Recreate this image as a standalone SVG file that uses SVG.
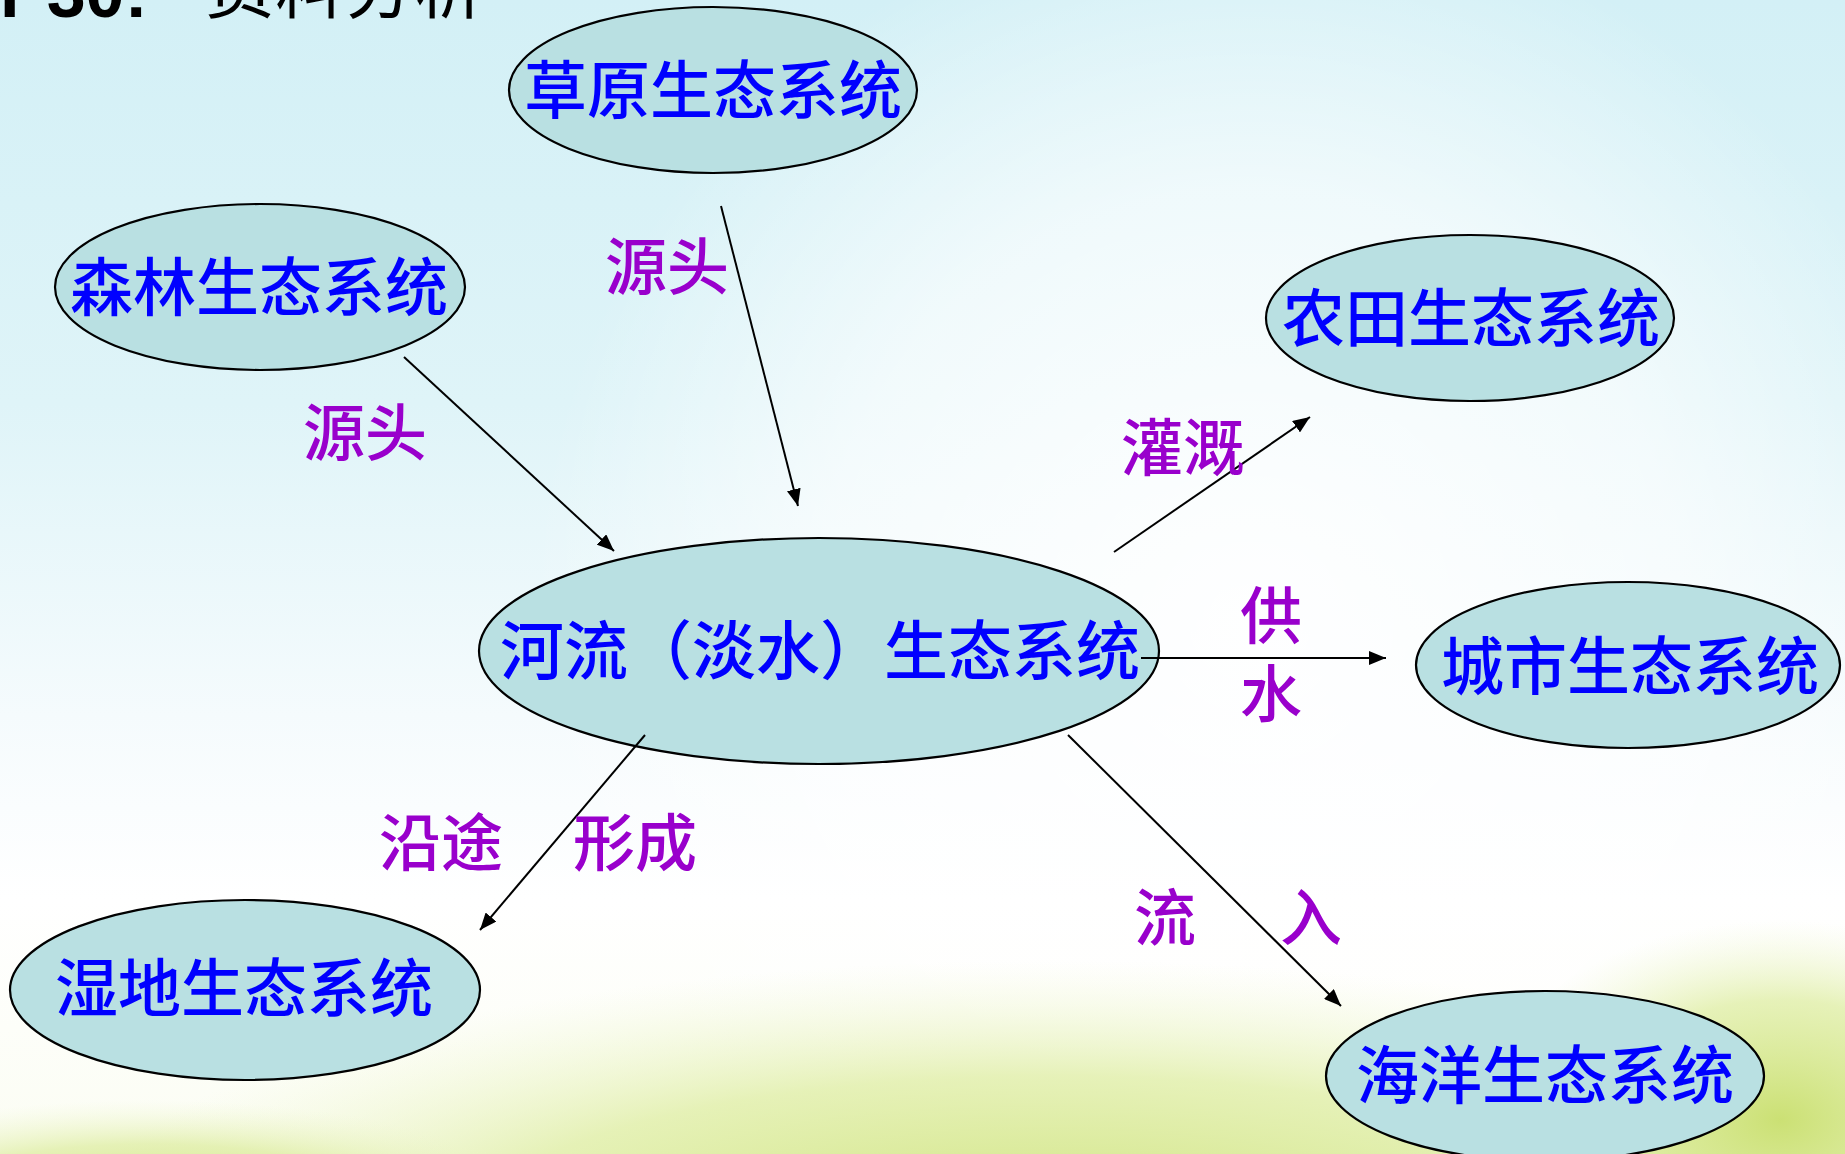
<svg xmlns="http://www.w3.org/2000/svg" width="1845" height="1154" viewBox="0 0 1845 1154">
  <defs>
    <linearGradient id="sky" x1="0" y1="0" x2="0" y2="1">
      <stop offset="0" stop-color="#d3f0f6"/>
      <stop offset="0.35" stop-color="#dff4f8"/>
      <stop offset="0.62" stop-color="#f5fbfd"/>
      <stop offset="0.78" stop-color="#ffffff"/>
      <stop offset="1" stop-color="#fbfdf3"/>
    </linearGradient>
    <radialGradient id="glow" cx="1250" cy="620" r="720" gradientUnits="userSpaceOnUse">
      <stop offset="0" stop-color="#ffffff" stop-opacity="0.95"/>
      <stop offset="0.6" stop-color="#ffffff" stop-opacity="0.6"/>
      <stop offset="1" stop-color="#ffffff" stop-opacity="0"/>
    </radialGradient>
    <radialGradient id="grass" cx="0.5" cy="0.5" r="0.5">
      <stop offset="0" stop-color="#c9df6e" stop-opacity="0.95"/>
      <stop offset="0.6" stop-color="#dcec9c" stop-opacity="0.7"/>
      <stop offset="1" stop-color="#eef6cc" stop-opacity="0"/>
    </radialGradient>
    <marker id="arr" markerUnits="userSpaceOnUse" markerWidth="18" markerHeight="14" refX="17" refY="7" orient="auto">
      <path d="M0,0 L17,7 L0,14 z" fill="#000"/>
    </marker>
    <style>
      .node ellipse { fill: #b9e0e2; stroke: #000; stroke-width: 2.2; }
      .nt { font-family: "Noto Sans CJK SC", sans-serif; fill: #0000ff; font-weight: 500; text-anchor: middle; }
      .lbl { font-family: "Noto Sans CJK SC", sans-serif; fill: #9900cc; font-size: 62px; font-weight: 500; text-anchor: middle; }
      .conn line { stroke: #000; stroke-width: 2; marker-end: url(#arr); }
    </style>
  </defs>

  <rect x="0" y="0" width="1845" height="1154" fill="url(#sky)"/>
  <rect x="0" y="0" width="1845" height="1154" fill="url(#glow)"/>
  <ellipse cx="1050" cy="1250" rx="1000" ry="290" fill="url(#grass)"/>
  <ellipse cx="1780" cy="1120" rx="300" ry="200" fill="url(#grass)"/>
  <ellipse cx="150" cy="1210" rx="400" ry="110" fill="url(#grass)"/>

  <g id="title" font-weight="bold" fill="#000">
    <text x="0" y="17" font-family="Liberation Sans, Arial, sans-serif" font-size="70">P30:</text>
    <text x="205" y="13" font-family="Noto Sans CJK SC, sans-serif" font-size="70" font-weight="normal">资料分析</text>
  </g>

  <g id="node-grassland" class="node">
    <ellipse cx="713" cy="90" rx="204" ry="83"/>
    <text class="nt" x="713" y="113" font-size="63">草原生态系统</text>
  </g>
  <g id="node-forest" class="node">
    <ellipse cx="260" cy="287" rx="205" ry="83"/>
    <text class="nt" x="259" y="310" font-size="63">森林生态系统</text>
  </g>
  <g id="node-farmland" class="node">
    <ellipse cx="1470" cy="318" rx="204" ry="83"/>
    <text class="nt" x="1471" y="341" font-size="63">农田生态系统</text>
  </g>
  <g id="node-river" class="node">
    <ellipse cx="819" cy="651" rx="340" ry="113"/>
    <text class="nt" x="820" y="674" font-size="64">河流（淡水）生态系统</text>
  </g>
  <g id="node-city" class="node">
    <ellipse cx="1628" cy="665" rx="212" ry="83"/>
    <text class="nt" x="1630" y="689" font-size="63">城市生态系统</text>
  </g>
  <g id="node-wetland" class="node">
    <ellipse cx="245" cy="990" rx="235" ry="90"/>
    <text class="nt" x="244" y="1011" font-size="63">湿地生态系统</text>
  </g>
  <g id="node-ocean" class="node">
    <ellipse cx="1545" cy="1076" rx="219" ry="85"/>
    <text class="nt" x="1545" y="1098" font-size="63">海洋生态系统</text>
  </g>

  <g id="connectors" class="conn">
    <line x1="404" y1="357" x2="614" y2="551"/>
    <line x1="721" y1="206" x2="798" y2="506"/>
    <line x1="1114" y1="552" x2="1310" y2="417"/>
    <line x1="1141" y1="658" x2="1386" y2="658"/>
    <line x1="645" y1="735" x2="480" y2="930"/>
    <line x1="1068" y1="735" x2="1341" y2="1006"/>
  </g>

  <g id="labels">
    <text class="lbl" x="667" y="290">源头</text>
    <text class="lbl" x="365" y="456">源头</text>
    <text class="lbl" x="1183" y="471">灌溉</text>
    <text class="lbl" x="1271" y="639"><tspan>供</tspan><tspan x="1271" y="717">水</tspan></text>
    <text class="lbl" x="441" y="866">沿途</text>
    <text class="lbl" x="635" y="866">形成</text>
    <text class="lbl" x="1165" y="941">流</text>
    <text class="lbl" x="1311" y="941">入</text>
  </g>
</svg>
